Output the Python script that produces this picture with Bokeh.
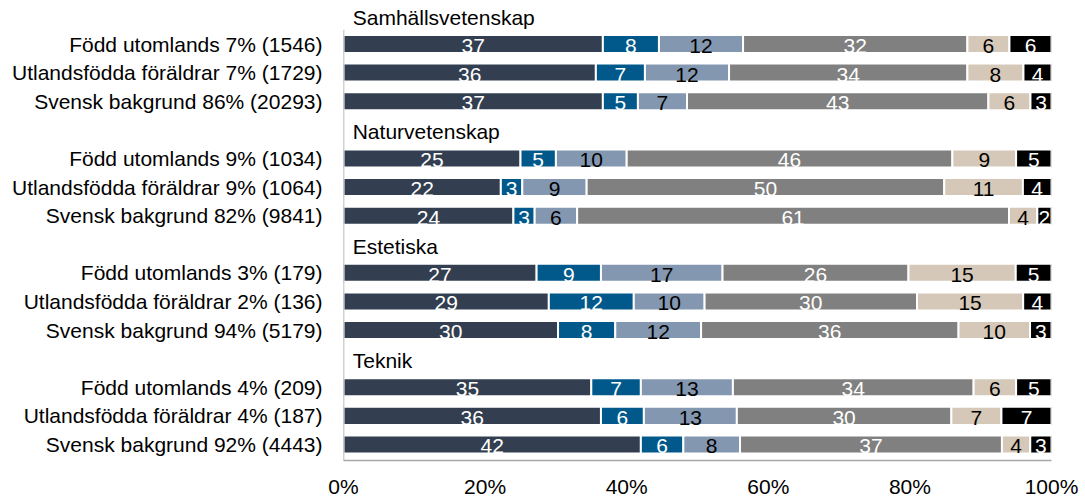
from bokeh.plotting import figure
from bokeh.models import Range1d, FixedTicker, ColumnDataSource
from bokeh.core.properties import value
from bokeh.embed import file_html
from bokeh.resources import INLINE

groups = ["Samhällsvetenskap", "Naturvetenskap", "Estetiska", "Teknik"]
row_labels = [
    "Född utomlands 7% (1546)", "Utlandsfödda föräldrar 7% (1729)", "Svensk bakgrund 86% (20293)",
    "Född utomlands 9% (1034)", "Utlandsfödda föräldrar 9% (1064)", "Svensk bakgrund 82% (9841)",
    "Född utomlands 3% (179)", "Utlandsfödda föräldrar 2% (136)", "Svensk bakgrund 94% (5179)",
    "Född utomlands 4% (209)", "Utlandsfödda föräldrar 4% (187)", "Svensk bakgrund 92% (4443)",
]
s1 = [37, 36, 37, 25, 22, 24, 27, 29, 30, 35, 36, 42]
s2 = [8, 7, 5, 5, 3, 3, 9, 12, 8, 7, 6, 6]
s3 = [12, 12, 7, 10, 9, 6, 17, 10, 12, 13, 13, 8]
s4 = [32, 34, 43, 46, 50, 61, 26, 30, 36, 34, 30, 37]
s5 = [6, 8, 6, 9, 11, 4, 15, 15, 10, 6, 7, 4]
s6 = [6, 4, 3, 5, 4, 2, 5, 4, 3, 5, 7, 3]
x_ticks = [0, 20, 40, 60, 80, 100]

series = [s1, s2, s3, s4, s5, s6]
colors = ["#333F50", "#00598A", "#8497B0", "#808080", "#D5C8B8", "#000000"]
label_colors = ["white", "white", "black", "white", "black", "white"]
FONT = value("Liberation Sans")

# slot layout: header at 4g, rows at 4g+1..4g+3
row_y = [4 * (i // 3) + 1 + (i % 3) for i in range(len(row_labels))]
header_y = [4 * g for g in range(len(groups))]

p = figure(width=1085, height=500, x_range=Range1d(0, 100), y_range=Range1d(15.56, -0.521),
           output_backend="svg", toolbar_location=None,
           min_border_left=343, min_border_right=34, min_border_top=0, min_border_bottom=37)
p.outline_line_color = None
p.xgrid.visible = False
p.ygrid.visible = False
p.background_fill_color = "white"
p.border_fill_color = "white"

totals = [sum(s[i] for s in series) for i in range(len(row_labels))]
left = [0.0] * len(row_labels)
for k, s in enumerate(series):
    w = [s[i] / totals[i] * 100 for i in range(len(s))]
    right = [left[i] + w[i] for i in range(len(s))]
    src = ColumnDataSource(dict(y=row_y, left=left, right=right,
                                mid=[(left[i] + right[i]) / 2 for i in range(len(s))],
                                txt=[str(v) for v in s]))
    p.hbar(y="y", left="left", right="right", height=0.63, source=src,
           fill_color=colors[k], line_color="white", line_width=2)
    p.text(x="mid", y="y", text="txt", source=src, text_align="center", text_baseline="middle",
           y_offset=2, text_color=label_colors[k], text_font=FONT, text_font_size="21px")
    left = right

# group headers
p.text(x=[1.3] * len(groups), y=header_y, text=groups, text_align="left", text_baseline="middle",
       y_offset=2, text_color="black", text_font=FONT, text_font_size="21px")

# y axis line (starting below the first header)
p.segment(x0=[0], y0=[0.5], x1=[0], y1=[15.56], line_color="#A6A6A6", line_width=1.5)

# y axis labels
p.yaxis.ticker = FixedTicker(ticks=row_y)
p.yaxis.major_label_overrides = {float(y): lab for y, lab in zip(row_y, row_labels)}
p.yaxis.axis_line_color = None
p.yaxis.major_tick_line_color = None
p.yaxis.major_tick_out = 0
p.yaxis.minor_tick_line_color = None
p.yaxis.major_label_standoff = 21
p.yaxis.major_label_text_font = "Liberation Sans"
p.yaxis.major_label_text_font_size = "21px"
p.yaxis.major_label_text_color = "black"

# x axis
p.xaxis.ticker = FixedTicker(ticks=x_ticks)
p.xaxis.major_label_overrides = {t: f"{t}%" for t in x_ticks}
p.xaxis.axis_line_color = "#A6A6A6"
p.xaxis.axis_line_width = 1.5
p.xaxis.major_tick_line_color = None
p.xaxis.major_tick_out = 0
p.xaxis.minor_tick_line_color = None
p.xaxis.major_label_standoff = 14
p.xaxis.major_label_text_font = "Liberation Sans"
p.xaxis.major_label_text_font_size = "21px"
p.xaxis.major_label_text_color = "black"

open("out.html", "w").write(file_html(p, INLINE))
